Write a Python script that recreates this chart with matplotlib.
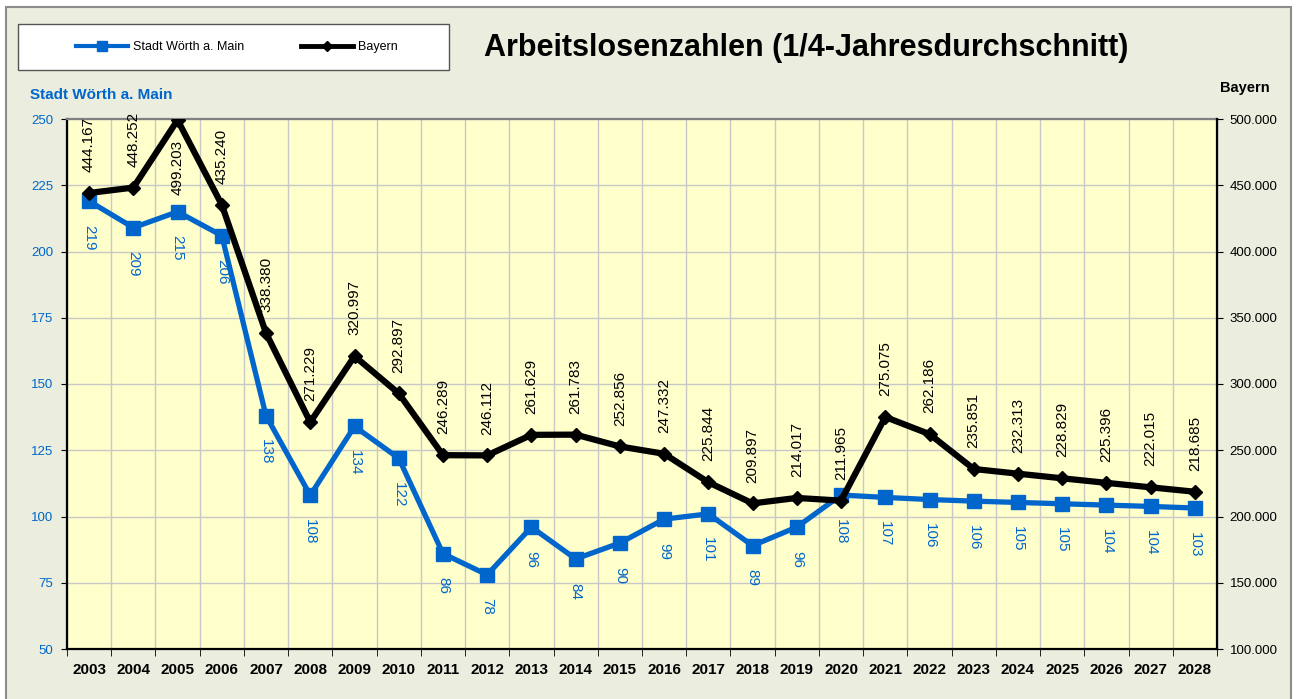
import matplotlib.pyplot as plt
from matplotlib.lines import Line2D
from matplotlib.patches import Rectangle
from matplotlib.ticker import FixedLocator, FuncFormatter

plt.rcParams["font.family"] = ["Liberation Sans", "DejaVu Sans"]

# Data
years = [str(y) for y in range(2003, 2029)]
woerth = [219, 209, 215, 206, 138, 108, 134, 122, 86, 78, 96, 84, 90, 99, 101, 89, 96,
          108.1, 107.2, 106.4, 105.8, 105.3, 104.8, 104.3, 103.8, 103.2]
bayern = [444167, 448252, 499203, 435240, 338380, 271229, 320997, 292897, 246289, 246112,
          261629, 261783, 252856, 247332, 225844, 209897, 214017, 211965, 275075, 262186,
          235851, 232313, 228829, 225396, 222015, 218685]

BLUE = "#0066CC"
BG = "#EBEDDE"
PLOT_BG = "#FFFFCC"
GRID = "#C8C8C8"


def de_thousands(v, pos=None):
    return f"{v:,.0f}".replace(",", ".")


W, H = 1297, 699
fig = plt.figure(figsize=(W / 100, H / 100), dpi=100, facecolor="white")

# outer frame
fig.patches.append(Rectangle((6 / W, -0.01), 1285 / W, (H - 7) / H + 0.01,
                             transform=fig.transFigure, facecolor=BG,
                             edgecolor="#8C8C8C", linewidth=1.5, zorder=-5))

ax1 = fig.add_axes([67 / W, 50 / H, 1150 / W, 530 / H])
ax1.set_facecolor(PLOT_BG)
x = list(range(len(years)))

ax1.plot(x, woerth, color=BLUE, linewidth=3.8, marker="s", markersize=10, zorder=3,
         solid_joinstyle="miter")
ax1.set_xlim(-0.5, len(years) - 0.5)
ax1.set_ylim(50, 250)
ax1.set_yticks(range(50, 251, 25))
ax1.tick_params(axis="y", labelcolor=BLUE, color="black", labelsize=9.5, length=4, pad=6)

ax1.set_xticks(x)
ax1.set_xticklabels(years, fontweight="bold", fontsize=11)
ax1.xaxis.set_minor_locator(FixedLocator([i + 0.5 for i in range(-1, len(years))]))
ax1.tick_params(axis="x", which="major", length=0, pad=10)
ax1.tick_params(axis="x", which="minor", length=5, color="black")
ax1.grid(axis="y", which="major", color=GRID, linewidth=1)
ax1.grid(axis="x", which="minor", color=GRID, linewidth=1)
ax1.set_axisbelow(True)

for sp in ["left", "bottom"]:
    ax1.spines[sp].set_color("black")
    ax1.spines[sp].set_linewidth(1.6)
ax1.spines["top"].set_color("#808080")
ax1.spines["top"].set_linewidth(1.6)

for xi, v in zip(x, woerth):
    ax1.annotate(f"{v:.0f}", (xi, v), xytext=(0, -17), textcoords="offset points",
                 rotation=270, ha="center", va="top", fontsize=11, color=BLUE)

ax2 = ax1.twinx()
ax2.plot(x, bayern, color="black", linewidth=4.5, marker="D", markersize=7, zorder=4)
ax2.set_ylim(100000, 500000)
ax2.set_yticks(range(100000, 500001, 50000))
ax2.yaxis.set_major_formatter(FuncFormatter(de_thousands))
ax2.tick_params(axis="y", labelsize=9.5, length=4, pad=5)
ax2.spines["right"].set_linewidth(1.6)
ax2.spines["top"].set_visible(False)
ax2.spines["left"].set_visible(False)
ax2.spines["bottom"].set_visible(False)

for xi, v in zip(x, bayern):
    # label of the peak would leave the chart, so it goes below the point
    if v > 480000:
        ax2.annotate(de_thousands(v), (xi, v), xytext=(0, -14), textcoords="offset points",
                     rotation=90, ha="center", va="top", fontsize=11, color="black",
                     zorder=6)
    else:
        ax2.annotate(de_thousands(v), (xi, v), xytext=(0, 15), textcoords="offset points",
                     rotation=90, ha="center", va="bottom", fontsize=11, color="black")

# axis captions and title
fig.text(30 / W, 1 - 95 / H, "Stadt Wörth a. Main", color=BLUE, fontweight="bold",
         fontsize=11, ha="left", va="center")
fig.text(1245 / W, 1 - 88 / H, "Bayern", fontweight="bold", fontsize=10.5,
         ha="center", va="center")
fig.text(806 / W, 1 - 48 / H, "Arbeitslosenzahlen (1/4-Jahresdurchschnitt)",
         fontweight="bold", fontsize=22, ha="center", va="center")

# legend box
fig.patches.append(Rectangle((18 / W, 1 - 70 / H), 431 / W, 46 / H,
                             transform=fig.transFigure, facecolor="white",
                             edgecolor="#555555", linewidth=1, zorder=1))
handles = [Line2D([], [], color=BLUE, linewidth=3, marker="s", markersize=7),
           Line2D([], [], color="black", linewidth=3.5, marker="D", markersize=5)]
fig.legend(handles, ["Stadt Wörth a. Main", "Bayern"], loc="center",
           bbox_to_anchor=(237 / W, 1 - 47 / H), ncol=2, frameon=False, fontsize=9,
           handlelength=4.2, handletextpad=0.4, columnspacing=4.5)

fig.savefig("out.png", dpi=100, facecolor=fig.get_facecolor())
